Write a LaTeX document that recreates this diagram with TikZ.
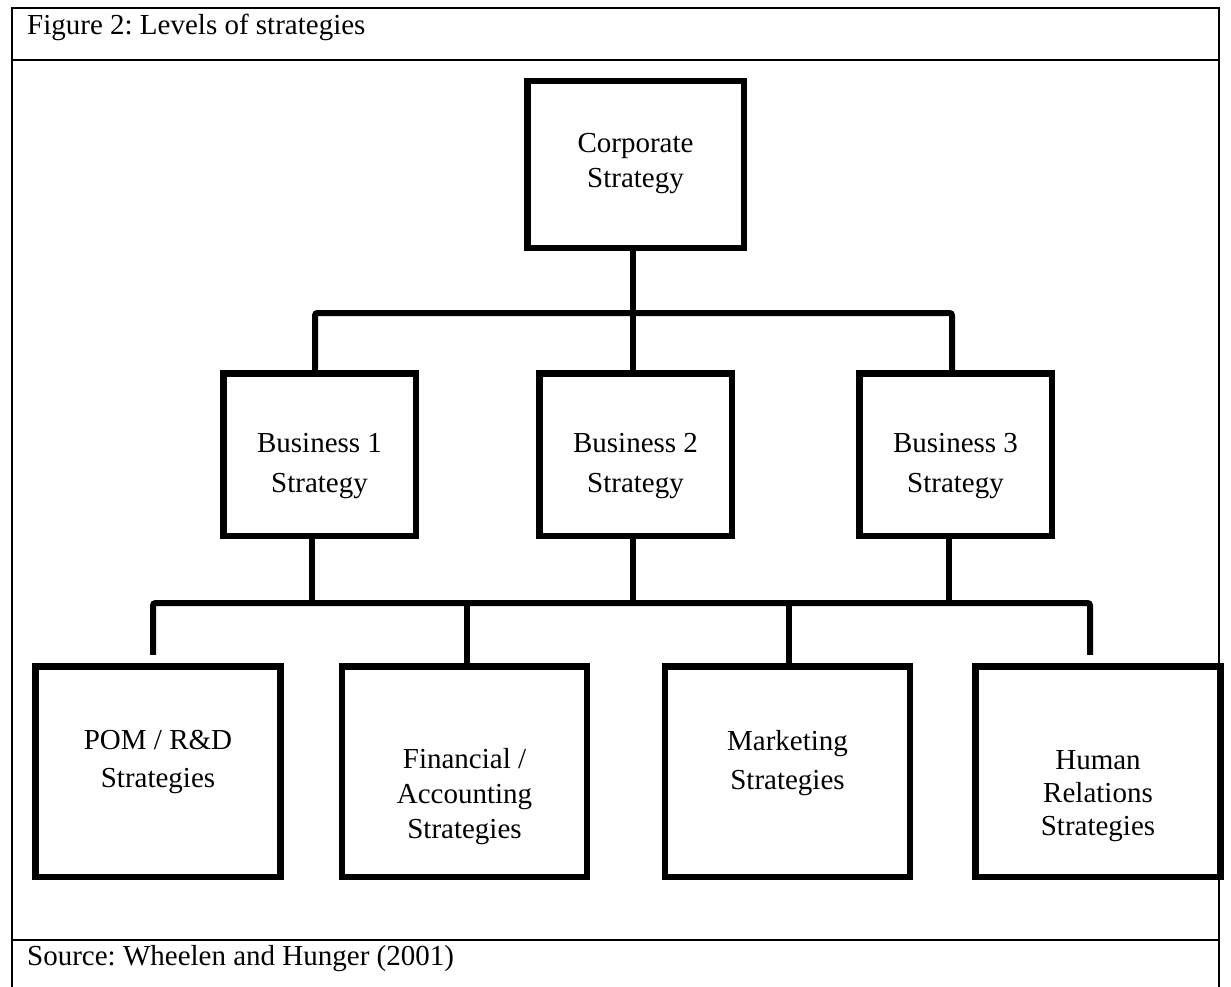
\documentclass[tikz,border=0pt]{standalone}
\usepackage{fontspec}
\setmainfont{Liberation Serif}
\frenchspacing
\begin{document}
\begin{tikzpicture}[x=1pt,y=-1pt,
  frame/.style={line width=2pt, line cap=rect},
  boxbase/.style={draw=black, fill=white, line width=6.5pt, inner sep=0pt},
  topbox/.style={boxbase, minimum width=216.5pt, minimum height=166.5pt},
  midbox/.style={boxbase, minimum width=192.5pt, minimum height=162.5pt},
  lowbox/.style={boxbase, minimum width=245pt, minimum height=210.5pt},
  txt/.style={align=center, inner sep=0pt, font=\fontsize{29pt}{#1pt}\selectfont},
  caption/.style={anchor=base west, inner sep=0pt, font=\fontsize{29pt}{35pt}\selectfont},
  conn/.style={line width=6pt, rounded corners=2.5pt},
  stem/.style={line width=6pt}]

\useasboundingbox (0,0) rectangle (1231,987);

% table frame with caption and source rows
\draw[frame] (12,990) -- (12,8) -- (1219,8) -- (1219,990);
\draw[frame] (12,60) -- (1219,60);
\draw[frame] (12,940) -- (1219,940);
\node[caption] (title) at (27,35) {Figure 2: Levels of strategies};
\node[caption] (source) at (27,965) {Source: Wheelen and Hunger (2001)};

% boxes
\node[topbox] (corp) at (635.5,164.5) {};
\node[midbox] (b1) at (319.5,454.5) {};
\node[midbox] (b2) at (635.5,454.5) {};
\node[midbox] (b3) at (955.5,454.5) {};
\node[lowbox] (pom) at (158,771.5) {};
\node[lowbox] (fin) at (464.5,771.5) {};
\node[lowbox] (mkt) at (787.5,771.5) {};
\node[lowbox] (hr) at (1098,771.5) {};

% box texts
\node[txt=35] (corp-t) at (635.5,163.5) {Corporate\\Strategy};
\node[txt=39.5] (b1-t) at (319.5,466) {Business 1\\Strategy};
\node[txt=39.5] (b2-t) at (635.5,466) {Business 2\\Strategy};
\node[txt=39.5] (b3-t) at (955.5,466) {Business 3\\Strategy};
\node[txt=38] (pom-t) at (158,762) {POM / R\&D\\Strategies};
\node[txt=34.7] (fin-t) at (464.5,796.5) {Financial /\\Accounting\\Strategies};
\node[txt=38.6] (mkt-t) at (787.5,763) {Marketing\\Strategies};
\node[txt=33.3] (hr-t) at (1098,796) {Human\\Relations\\Strategies};

% corporate level to business level
\coordinate (hubA) at (633,313);
\draw[conn] ([xshift=-4.5pt]b1.north) |- (hubA) -| ([xshift=-3.5pt]b3.north);
\draw[stem] ([xshift=-2.5pt]corp.south) -- ([xshift=-2.5pt]b2.north);

% business level to functional level
\coordinate (hubB) at (633,603);
\draw[conn] ([shift={(-5pt,8.25pt)}]pom.north) |- (hubB) -| ([shift={(-8pt,8.25pt)}]hr.north);
\draw[stem] ([xshift=-7.5pt]b1.south) |- (hubB);
\draw[stem] ([xshift=-2.5pt]b2.south) |- (hubB);
\draw[stem] ([xshift=-6.5pt]b3.south) |- (hubB);
\draw[stem] ([xshift=2.5pt]fin.north) |- (hubB);
\draw[stem] ([xshift=1.5pt]mkt.north) |- (hubB);
\end{tikzpicture}
\end{document}
